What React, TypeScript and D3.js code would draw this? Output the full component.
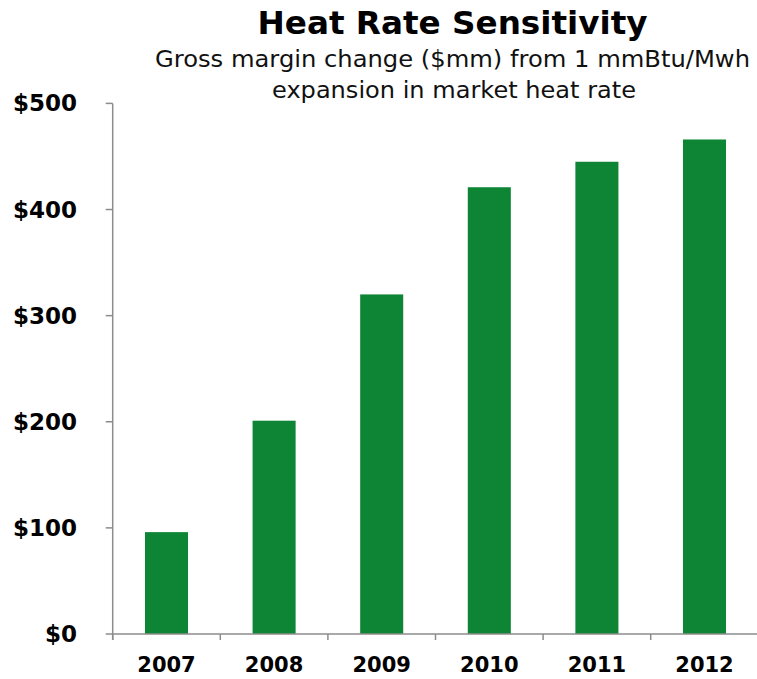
import React from "react";
import * as d3 from "d3";

const years = ["2007", "2008", "2009", "2010", "2011", "2012"];
const values = [96, 201, 320, 421, 445, 466];
const yTicks = [0, 100, 200, 300, 400, 500];
const title = "Heat Rate Sensitivity";
const subtitle1 = "Gross margin change ($mm) from 1 mmBtu/Mwh";
const subtitle2 = "expansion in market heat rate";

export default function App() {
  const W = 757, H = 679;
  const left = 112.7, right = 758.3, top = 103.4, bottom = 634;
  const x = d3.scaleBand<string>().domain(years).range([left, right]).paddingInner(0.6).paddingOuter(0.3);
  const y = d3.scaleLinear().domain([0, 500]).range([bottom, top]);
  const step = x.step();
  const axisColor = "#8c8c8c";
  const font = "'DejaVu Sans', Verdana, sans-serif";
  return (
    <svg width={W} height={H} style={{ position: "absolute", left: 0, top: 0, background: "#fff" }}>
      <text x={452.5} y={34} textAnchor="middle" fontFamily={font} fontWeight="bold" fontSize={32} textLength={390} lengthAdjust="spacingAndGlyphs" fill="#000">{title}</text>
      <text x={452.5} y={66.5} textAnchor="middle" fontFamily={font} fontSize={23} textLength={595} lengthAdjust="spacingAndGlyphs" fill="#111">{subtitle1}</text>
      <text x={454} y={98} textAnchor="middle" fontFamily={font} fontSize={23} textLength={364} lengthAdjust="spacingAndGlyphs" fill="#111">{subtitle2}</text>
      {years.map((yr, i) => (
        <rect key={yr} x={x(yr)} y={y(values[i])} width={x.bandwidth()} height={bottom - y(values[i])} fill="#0e8535" />
      ))}
      <line x1={left} x2={left} y1={top} y2={bottom + 6} stroke={axisColor} strokeWidth={1.5} />
      <line x1={left} x2={W} y1={bottom} y2={bottom} stroke={axisColor} strokeWidth={1.5} />
      {yTicks.map((t) => (
        <g key={t}>
          <line x1={left - 7} x2={left} y1={y(t)} y2={y(t)} stroke={axisColor} strokeWidth={1.5} />
          <text x={77} y={y(t)} dy="0.35em" textAnchor="end" fontFamily={font} fontWeight="bold" fontSize={23} fill="#000">{"$" + t}</text>
        </g>
      ))}
      {d3.range(0, years.length + 1).map((i) => (
        <line key={i} x1={left + i * step} x2={left + i * step} y1={bottom} y2={bottom + 6} stroke={axisColor} strokeWidth={1.5} />
      ))}
      {years.map((yr) => (
        <text key={yr} x={(x(yr) as number) + x.bandwidth() / 2} y={672} textAnchor="middle" fontFamily={font} fontWeight="bold" fontSize={21} fill="#000">{yr}</text>
      ))}
    </svg>
  );
}
